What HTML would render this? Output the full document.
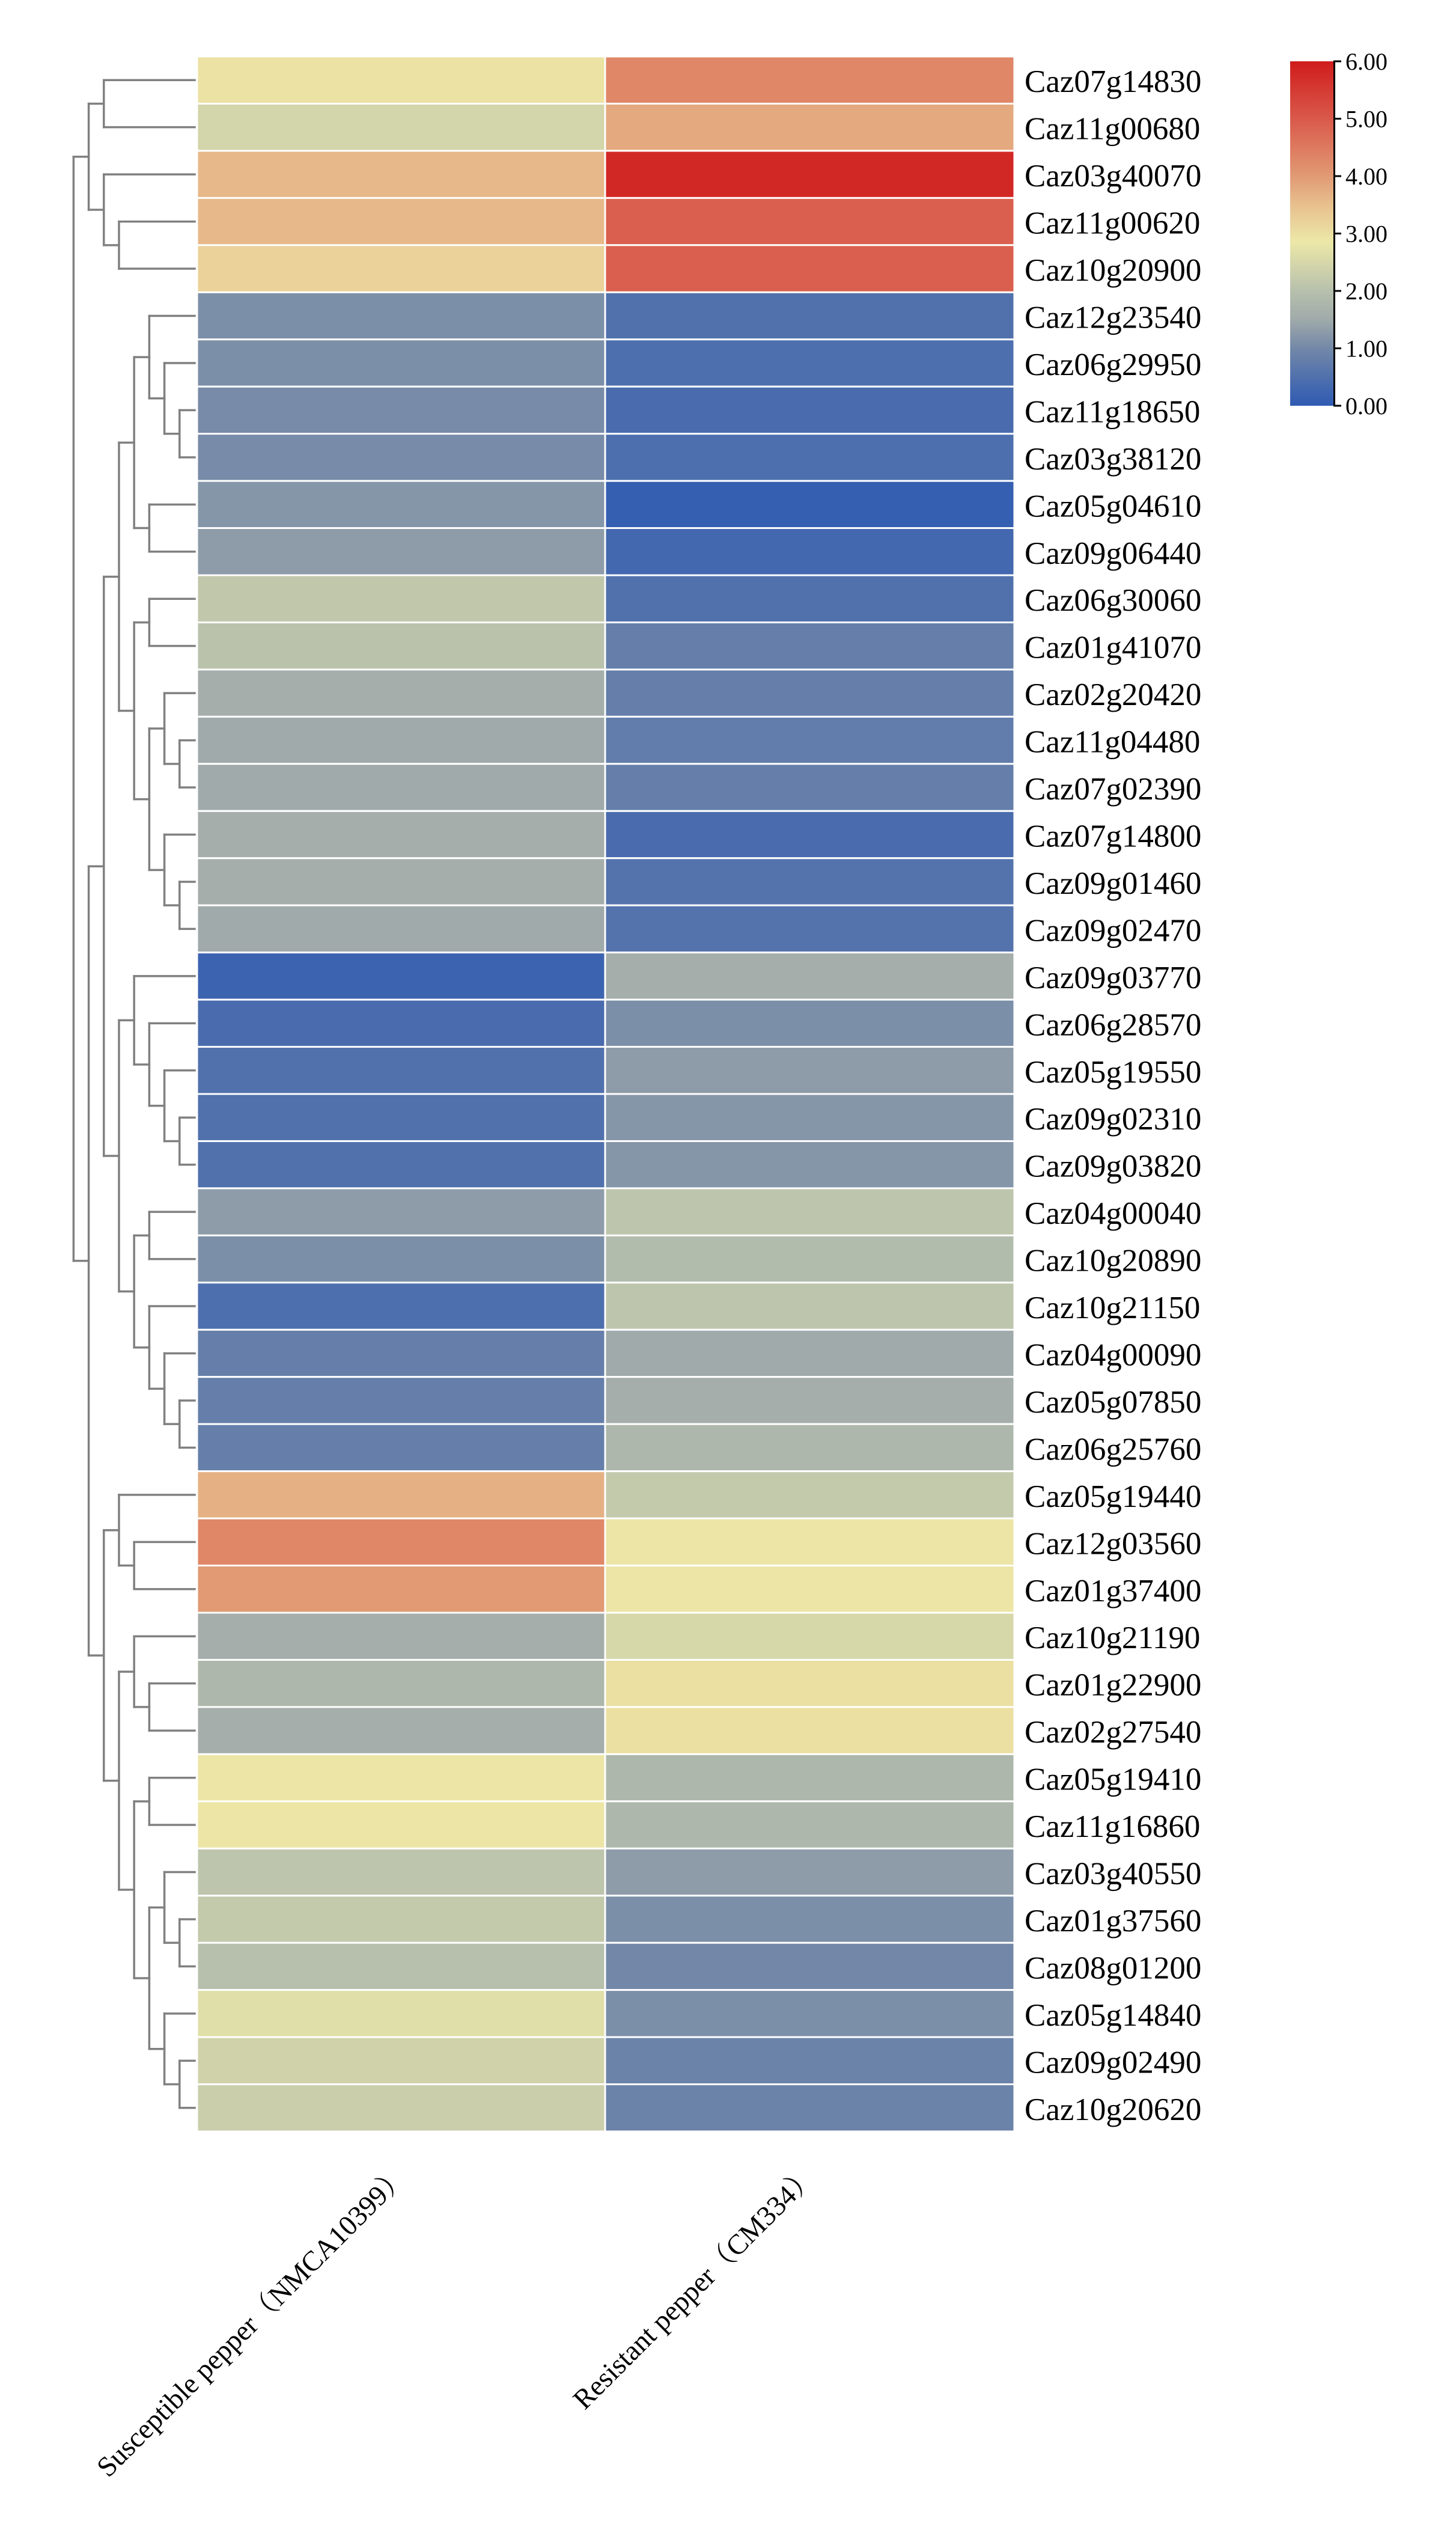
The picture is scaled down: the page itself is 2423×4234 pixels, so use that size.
<!DOCTYPE html>
<html><head><meta charset="utf-8"><style>
html,body{margin:0;padding:0;background:#fff;}
svg{display:block;}
</style></head><body>
<svg id="chart" width="2423" height="4234" viewBox="0 0 2423 4234" xmlns="http://www.w3.org/2000/svg" font-family="'Liberation Serif','Noto Serif CJK SC',serif">
<rect width="2423" height="4234" fill="#fff"/>
<defs>
<linearGradient id="cbgrad" x1="0" y1="1" x2="0" y2="0"></linearGradient>
</defs>
<g id="dendro"></g>
<g id="cells"></g>
<g id="rowlabels"></g>
<g id="collabels"></g>
<g id="colorbar"></g>
</svg>
<script>
const genes = ["Caz07g14830","Caz11g00680","Caz03g40070","Caz11g00620","Caz10g20900","Caz12g23540","Caz06g29950","Caz11g18650","Caz03g38120","Caz05g04610","Caz09g06440","Caz06g30060","Caz01g41070","Caz02g20420","Caz11g04480","Caz07g02390","Caz07g14800","Caz09g01460","Caz09g02470","Caz09g03770","Caz06g28570","Caz05g19550","Caz09g02310","Caz09g03820","Caz04g00040","Caz10g20890","Caz10g21150","Caz04g00090","Caz05g07850","Caz06g25760","Caz05g19440","Caz12g03560","Caz01g37400","Caz10g21190","Caz01g22900","Caz02g27540","Caz05g19410","Caz11g16860","Caz03g40550","Caz01g37560","Caz08g01200","Caz05g14840","Caz09g02490","Caz10g20620"];
const samples = ["Susceptible pepper（NMCA10399）","Resistant pepper（CM334）"];
const susceptible = [2.95,2.45,3.6,3.6,3.2,1.1,1.1,1.05,1.05,1.2,1.3,2.15,2.05,1.6,1.5,1.5,1.6,1.6,1.5,0.2,0.4,0.5,0.5,0.5,1.3,1.1,0.45,0.8,0.8,0.8,3.7,4.3,4.0,1.6,1.8,1.6,2.9,2.9,2.1,2.2,2.0,2.65,2.4,2.3];
const resistant = [4.3,3.8,5.8,4.9,4.9,0.5,0.45,0.4,0.45,0.1,0.3,0.5,0.8,0.8,0.75,0.8,0.4,0.55,0.55,1.6,1.1,1.3,1.2,1.2,2.1,1.9,2.1,1.5,1.6,1.8,2.2,2.9,2.9,2.5,3.0,3.0,1.8,1.8,1.3,1.1,1.0,1.1,0.9,0.9];
const cbTicks = [0,1,2,3,4,5,6];
const cbTickLabels = ["0.00","1.00","2.00","3.00","4.00","5.00","6.00"];
// dendrogram: [leftChild, rightChild, level]; numbers = leaf index, arrays = subtrees
const tree = [
  [[0,1,6],[2,[3,4,5],6],7],
  [
    [
      [
        [[5,[6,[7,8,1],2],3],[9,10,3],4],
        [[11,12,3],[[13,[14,15,1],2],[16,[17,18,1],2],3],4],
      5],
      [
        [19,[20,[21,[22,23,1],2],3],4],
        [[24,25,3],[26,[27,[28,29,1],2],3],4],
      5],
    6],
    [
      [30,[31,32,4],5],
      [[33,[34,35,3],4],[[36,37,3],[[38,[39,40,1],2],[41,[42,43,1],2],3],4],5],
    6],
  7],
8];

const NS="http://www.w3.org/2000/svg";
const X0=328, XM=1007, X1=1688, Y0=94, Y1=3546;
const rowH=(Y1-Y0)/genes.length;
const colX=[X0,XM,X1];
const vmin=0,vmax=6;
const stops=[[0,[46,90,178]],[1,[115,136,168]],[1.5,[160,170,170]],[2,[183,192,172]],[2.85,[236,232,168]],[3.5,[232,192,142]],[4,[225,154,116]],[5,[217,89,74]],[6,[208,28,28]]];
function color(v){
  v=Math.max(vmin,Math.min(vmax,v));
  for(let i=0;i<stops.length-1;i++){
    const a=stops[i],b=stops[i+1];
    if(v<=b[0]){const t=(v-a[0])/(b[0]-a[0]);
      const c=a[1].map((x,k)=>Math.round(x+(b[1][k]-x)*t));
      return `rgb(${c[0]},${c[1]},${c[2]})`;}
  }
  const c=stops[stops.length-1][1];return `rgb(${c[0]},${c[1]},${c[2]})`;
}
function yRow(i){return Y0+i*rowH;}
function mk(tag,attrs,parent){const e=document.createElementNS(NS,tag);for(const k in attrs)e.setAttribute(k,attrs[k]);parent.appendChild(e);return e;}

// cells
const cells=document.getElementById('cells');
const series=[susceptible,resistant];
series.forEach((arr,c)=>{
  arr.forEach((v,i)=>{
    const r=mk('rect',{x:colX[c],y:yRow(i),width:colX[c+1]-colX[c],height:rowH,fill:color(v),stroke:'#fff','stroke-width':3},cells);
    
    
  });
});

// row labels
const rl=document.getElementById('rowlabels');
genes.forEach((g,i)=>{
  const t=mk('text',{x:1705,y:yRow(i)+rowH/2+20,'font-size':53,fill:'#000'},rl);
  t.textContent=g;
  
  
});

// column labels
const cl=document.getElementById('collabels');
samples.forEach((s,c)=>{
  const cx=(colX[c]+colX[c+1])/2+14, cy=3622;
  const t=mk('text',{x:cx,y:cy,'font-size':47,'text-anchor':'end',transform:`rotate(-45 ${cx} ${cy})`,fill:'#000'},cl);
  t.textContent=s;
  
  
});

// dendrogram
const dg=document.getElementById('dendro');
const LEAFX=324, LSTEP=25.2;
function lx(level){return LEAFX-LSTEP*level;}
function line(x1,y1,x2,y2){
  const l=mk('line',{x1:x1,y1:y1,x2:x2,y2:y2,stroke:'#808080','stroke-width':3.5,'stroke-linecap':'square'},dg);
  
  
}
function draw(n){
  if(typeof n==='number') return {y:yRow(n)+rowH/2,x:LEAFX};
  const a=draw(n[0]),b=draw(n[1]);const x=lx(n[2]);
  line(x,a.y,a.x,a.y);line(x,b.y,b.x,b.y);line(x,a.y,x,b.y);
  return {y:(a.y+b.y)/2,x:x};
}
draw(tree);

// colorbar
const grad=document.getElementById('cbgrad');
stops.forEach(s=>{mk('stop',{offset:(s[0]-vmin)/(vmax-vmin),'stop-color':color(s[0])},grad);});
const cb=document.getElementById('colorbar');
const CBX=2147,CBW=72,CBT=102,CBB=675;
function yCb(v){return CBB-(v-vmin)/(vmax-vmin)*(CBB-CBT);}
const cr=mk('rect',{x:CBX,y:CBT,width:CBW,height:CBB-CBT,fill:'url(#cbgrad)'},cb);


const ax=mk('line',{x1:CBX+CBW+1.5,y1:CBT,x2:CBX+CBW+1.5,y2:CBB,stroke:'#000','stroke-width':3},cb);


cbTicks.forEach((v,i)=>{
  const y=yCb(v);
  const tk=mk('line',{x1:CBX+CBW,y1:y,x2:CBX+CBW+13,y2:y,stroke:'#000','stroke-width':3},cb);
  
  
  const t=mk('text',{x:2239,y:y+14,'font-size':40,fill:'#000'},cb);
  t.textContent=cbTickLabels[i];
  
  
});
</script>
</body></html>
